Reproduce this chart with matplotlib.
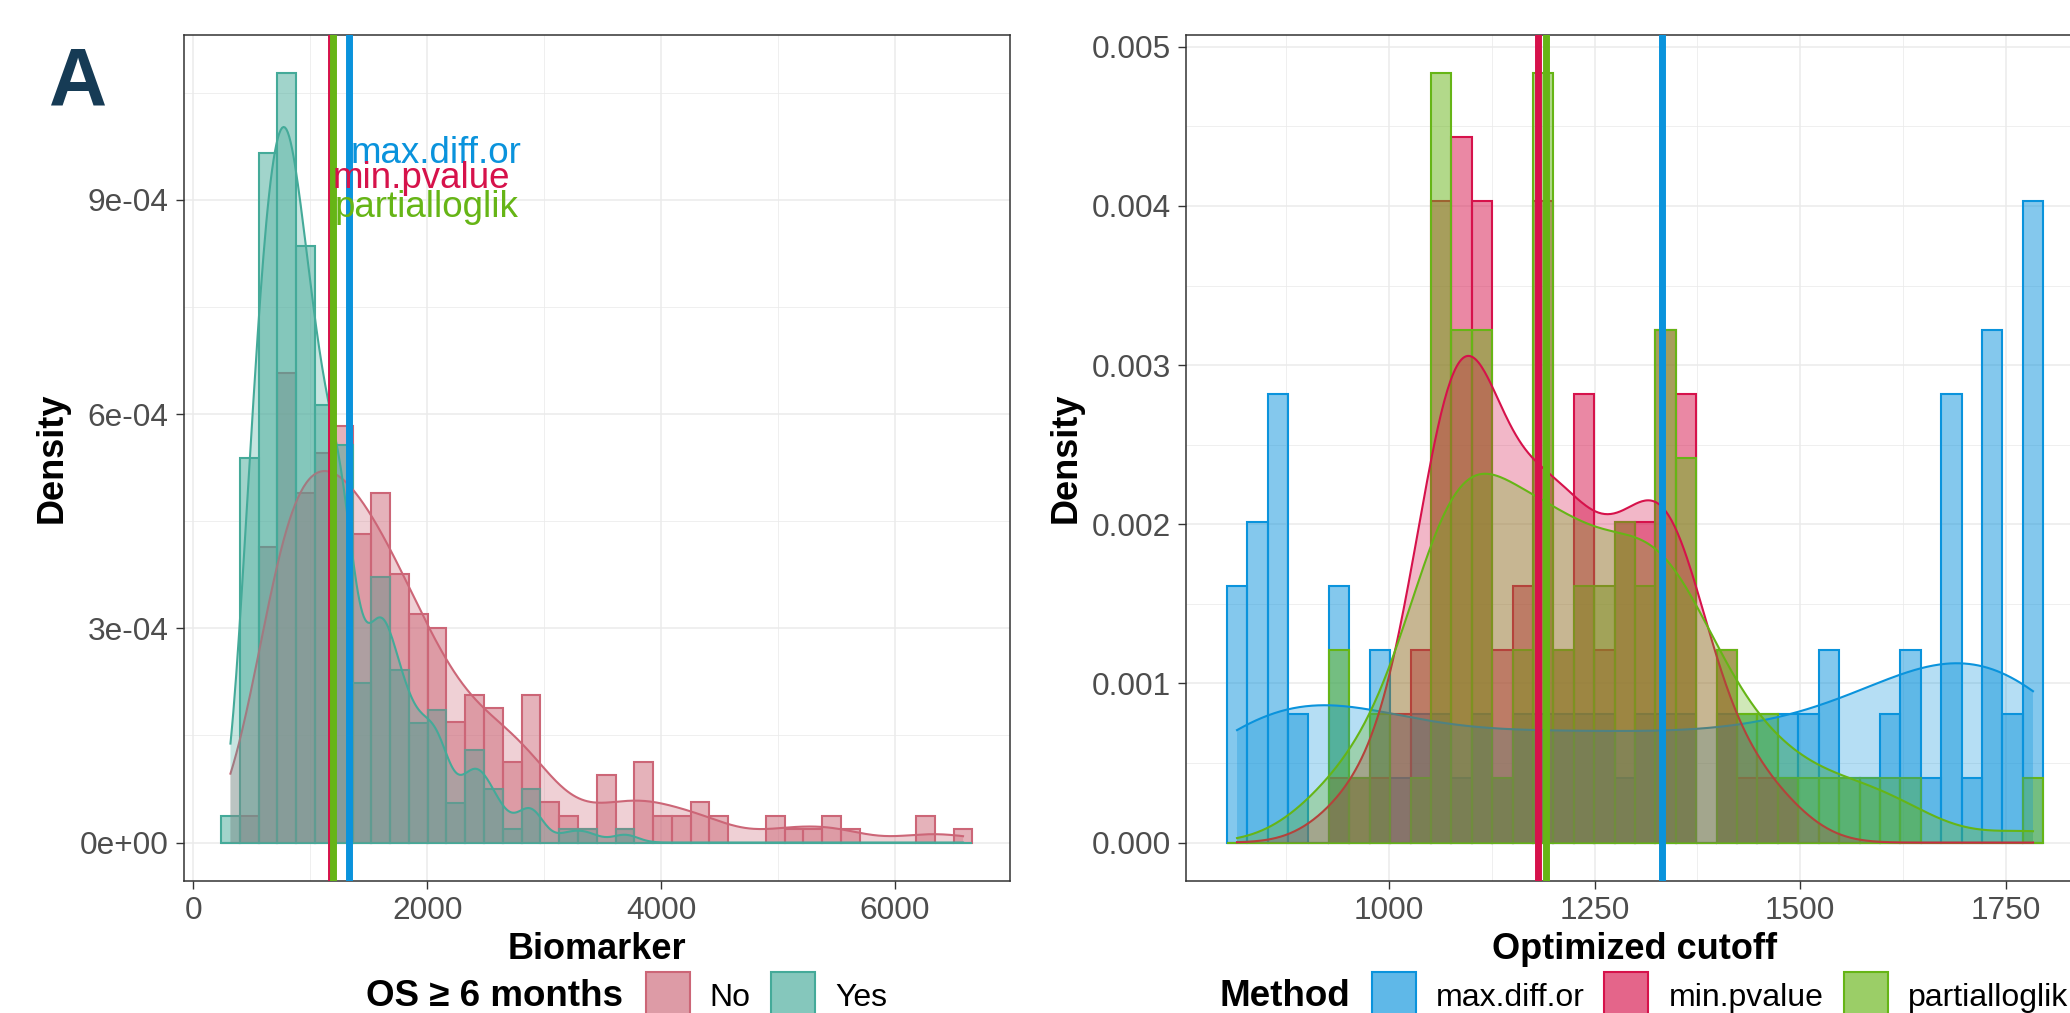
import numpy as np
import matplotlib
matplotlib.use("Agg")
import matplotlib.pyplot as plt
from matplotlib.patches import Rectangle
from matplotlib.colors import to_rgba

plt.rcParams['font.family'] = ['Liberation Sans', 'DejaVu Sans']

# ---- left panel: biomarker by OS >= 6 months (40 bins, min..max) ----
bio_min, bio_max = 317, 6584
os_labels = ['No', 'Yes']
os_colors = ['#CC6677', '#44AA99']
os_adjust = [1.0, 0.82]      # density bandwidth multiplier per group
counts_no = [0, 2, 22, 35, 26, 29, 31, 23, 26, 20,
             17, 16, 9, 11, 10, 6, 11, 3, 2, 1,
             5, 1, 6, 2, 2, 3, 2, 0, 0, 2,
             1, 1, 2, 1, 0, 0, 0, 2, 0, 1]
counts_yes = [2, 29, 52, 58, 45, 33, 30, 12, 20, 13,
              9, 10, 3, 7, 4, 1, 4, 0, 1, 1,
              0, 1, 0, 0, 0, 0, 0, 0, 0, 0,
              0, 0, 0, 0, 0, 0, 0, 0, 0, 0]

# ---- right panel: optimized cutoffs, 100 resamples per method ----
cut_min, cut_max = 815, 1783
methods = ['max.diff.or', 'min.pvalue', 'partialloglik']
method_colors = ['#0A93DC', '#D6124B', '#66B516']
method_adjust = [1.0, 1.0, 1.0]
counts_maxdiff = [4, 5, 7, 2, 0, 4, 0, 3, 1, 2,
                  2, 1, 2, 1, 2, 2, 2, 2, 2, 1,
                  2, 2, 2, 0, 2, 2, 2, 2, 2, 3,
                  1, 1, 2, 3, 1, 7, 1, 8, 2, 10]
counts_minp = [0, 0, 0, 0, 0, 1, 1, 1, 2, 3,
               10, 11, 10, 3, 4, 10, 3, 7, 3, 5,
               5, 8, 7, 0, 3, 1, 1, 1, 0, 0,
               0, 0, 0, 0, 0, 0, 0, 0, 0, 0]
counts_pll = [0, 0, 0, 0, 0, 3, 1, 2, 0, 1,
              12, 8, 8, 1, 3, 12, 3, 4, 4, 5,
              4, 8, 6, 0, 3, 2, 2, 1, 1, 1,
              1, 1, 1, 1, 0, 0, 0, 0, 0, 1]

# cutoff found by each method on the full data
best_cutoffs = [1332, 1181, 1191]
label_y = [9.52e-4, 9.16e-4, 8.76e-4]

left_xticks = [0, 2000, 4000, 6000]
left_yticks = [0, 3e-4, 6e-4, 9e-4]
left_yticklabels = ['0e+00', '3e-04', '6e-04', '9e-04']
right_xticks = [1000, 1250, 1500, 1750]
right_yticks = [0, 0.001, 0.002, 0.003, 0.004, 0.005]
right_yticklabels = ['0.000', '0.001', '0.002', '0.003', '0.004', '0.005']

W, H = 2070, 1013
HIST_ALPHA = 0.5
DENS_ALPHA = 0.3
TICK_FS = 22.8
TITLE_FS = 26


def bin_stats(lo, hi, counts):
    counts = np.asarray(counts)
    w = (hi - lo) / (len(counts) - 1)
    centers = lo + w * np.arange(len(counts))
    return centers, counts / (counts.sum() * w), w


def nrd0(x):
    sd = x.std(ddof=1)
    q75, q25 = np.percentile(x, [75, 25])
    return 0.9 * min(sd, (q75 - q25) / 1.34) * len(x) ** -0.2


def kde(centers, counts, lo, hi, adjust=1.0):
    x = np.repeat(centers, counts)
    bw = nrd0(x) * adjust
    grid = np.linspace(lo, hi, 512)
    z = (grid[:, None] - x[None, :]) / bw
    d = np.exp(-0.5 * z ** 2).sum(axis=1) / (len(x) * bw * np.sqrt(2 * np.pi))
    return grid, d


def hist_panel(ax, lo, hi, groups, colors, adjusts):
    top = 0
    for counts, col in zip(groups, colors):
        centers, dens, w = bin_stats(lo, hi, counts)
        ax.bar(centers, dens, width=w, facecolor=to_rgba(col, HIST_ALPHA),
               edgecolor=col, linewidth=1.5, zorder=2)
        top = max(top, dens.max())
    for counts, col, adj in zip(groups, colors, adjusts):
        centers, dens, w = bin_stats(lo, hi, counts)
        gx, gy = kde(centers, counts, lo, hi, adj)
        ax.fill_between(gx, 0, gy, facecolor=to_rgba(col, DENS_ALPHA),
                        linewidth=0, zorder=3)
        ax.plot(gx, gy, color=col, lw=1.5, zorder=3)
        top = max(top, gy.max())
    x0, x1 = lo - w / 2, hi + w / 2
    pad = 0.05 * (x1 - x0)
    return (x0 - pad, x1 + pad), (-0.05 * top, 1.05 * top)


def style_axes(ax, xticks, yticks, yticklabels, xlim, ylim):
    ax.set_axisbelow(True)
    ax.set_xticks(xticks)
    ax.set_yticks(yticks)
    ax.set_yticklabels(yticklabels)
    dx = xticks[1] - xticks[0]
    dy = yticks[1] - yticks[0]
    ax.set_xticks(np.arange(xticks[0] - dx / 2, xticks[-1] + dx, dx), minor=True)
    ax.set_yticks(np.arange(yticks[0] + dy / 2, yticks[-1] + dy, dy), minor=True)
    ax.set_xlim(*xlim)
    ax.set_ylim(*ylim)
    ax.grid(which='major', color='#EBEBEB', lw=1.1)
    ax.grid(which='minor', color='#EBEBEB', lw=0.55)
    ax.tick_params(which='major', length=5.8, width=1.0, color='#333333',
                   labelsize=TICK_FS, labelcolor='#4D4D4D', pad=5)
    ax.tick_params(which='minor', length=0)
    for s in ax.spines.values():
        s.set_color('#333333')
        s.set_linewidth(1.1)


def legend_row(fig, title, labels, colors, x_title, x_keys, x_texts):
    base = 1 - 1006 / H
    fig.text(x_title / W, base, title, fontsize=26.5, fontweight='bold',
             ha='left', va='baseline')
    a = 1 - (1 - HIST_ALPHA) * (1 - DENS_ALPHA)
    for lab, col, xk, xt in zip(labels, colors, x_keys, x_texts):
        fig.add_artist(Rectangle((xk / W, 1 - 1016 / H), 44 / W, 44 / H,
                                 transform=fig.transFigure,
                                 facecolor=to_rgba(col, a), edgecolor=col, lw=1.5))
        fig.text(xt / W, base, lab, fontsize=23, ha='left', va='baseline')


fig = plt.figure(figsize=(W / 100, H / 100), dpi=100)
ax1 = fig.add_axes([183.5 / W, 1 - 881 / H, 826.5 / W, 846.3 / H])
ax2 = fig.add_axes([1186 / W, 1 - 881 / H, 898 / W, 846.3 / H])

line_order = [1, 2, 0]   # min.pvalue, partialloglik, then max.diff.or

# left: biomarker histograms + densities, method cutoffs
lims1 = hist_panel(ax1, bio_min, bio_max, [counts_no, counts_yes],
                   os_colors, os_adjust)
for i in line_order:
    ax1.axvline(best_cutoffs[i], color=method_colors[i], lw=5, zorder=4)
for name, c, col, y in zip(methods, best_cutoffs, method_colors, label_y):
    ax1.annotate(name, xy=(c, y), xytext=(1.5, 0), textcoords='offset pixels',
                 color=col, fontsize=26.5, ha='left', va='baseline', zorder=5)
style_axes(ax1, left_xticks, left_yticks, left_yticklabels, *lims1)

# right: cutoff distributions per method
lims2 = hist_panel(ax2, cut_min, cut_max,
                   [counts_maxdiff, counts_minp, counts_pll],
                   method_colors, method_adjust)
for i in line_order:
    ax2.axvline(best_cutoffs[i], color=method_colors[i], lw=5, zorder=4)
style_axes(ax2, right_xticks, right_yticks, right_yticklabels, *lims2)

for ax, xl, ylx in [(ax1, 'Biomarker', 52), (ax2, 'Optimized cutoff', 1066)]:
    ax.set_xlabel(xl, fontsize=TITLE_FS, fontweight='bold')
    ax.set_ylabel('Density', fontsize=TITLE_FS, fontweight='bold')
    ax.xaxis.label.set_va('baseline')
    ax.xaxis.set_label_coords(0.5, (881 - 959) / 846.3)
    ax.yaxis.label.set_va('center')
    pos = ax.get_position()
    ax.yaxis.set_label_coords((ylx / W - pos.x0) / pos.width, 0.5)

legend_row(fig, 'OS \u2265 6 months', os_labels, os_colors,
           366, [645.5, 771], [709.6, 835])
legend_row(fig, 'Method', methods, method_colors,
           1220, [1371.6, 1604, 1843.6], [1435.7, 1668.7, 1907.6])

fig.text(78.5 / W, 1 - 104.3 / H, 'A', fontsize=58, fontweight='bold',
         color='#163B55', ha='center', va='baseline')

fig.savefig('out.png', dpi=100)
